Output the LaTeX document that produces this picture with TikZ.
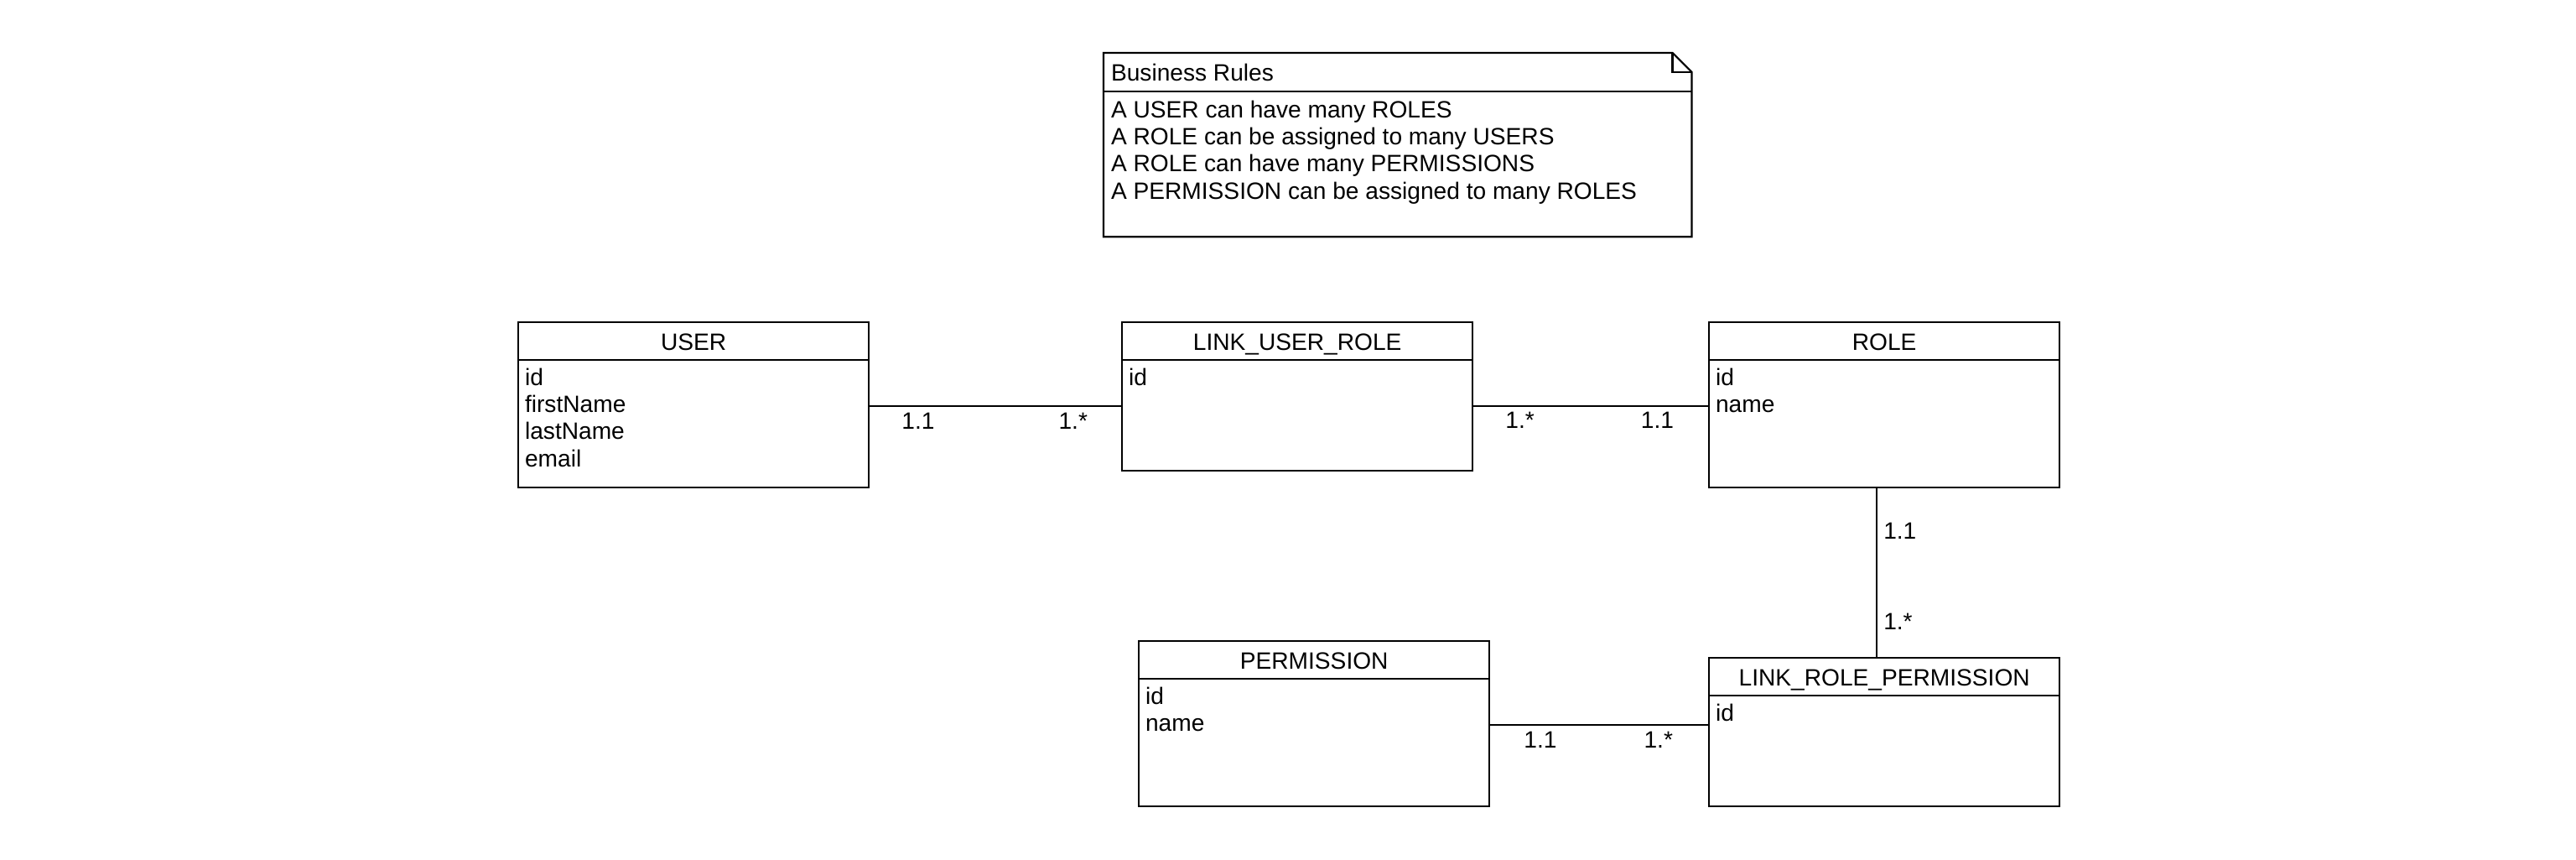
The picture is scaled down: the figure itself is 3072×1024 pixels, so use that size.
\documentclass[tikz,border=0pt]{standalone}
\usepackage{fontspec}
\setmainfont{Liberation Sans}
\usetikzlibrary{positioning}

\begin{document}
\begin{tikzpicture}[x=0.01cm, y=-0.01cm, line width=0.6pt,
    font=\fontsize{8pt}{9.6pt}\selectfont,
    entity/.style={draw, anchor=north west, inner sep=0pt, minimum width=4.18cm, minimum height=1.97cm},
    tabhead/.style={anchor=base, inner sep=0pt},
    field/.style={anchor=base west, inner sep=0pt},
    card/.style={anchor=base west, inner sep=0pt},
    cardr/.style={anchor=base east, inner sep=0pt}]
    \useasboundingbox (0,0) rectangle (3072,1024);

    \node[anchor=north west, inner sep=0pt, minimum width=6.99cm, minimum height=2.17cm] (note) at (1316,63) {};
    \draw (note.north west) -- ([shift={(-23,0)}]note.north east) -- ([shift={(0,23)}]note.north east) -- (note.south east) -- (note.south west) -- cycle;
    \draw ([shift={(-23,0)}]note.north east) |- ([shift={(0,23)}]note.north east);
    \draw ([shift={(0,46)}]note.north west) -- ([shift={(0,46)}]note.north east);
    \node[field] (note-t) at ([shift={(8,34)}]note.north west) {Business Rules};
    \foreach \r [count=\i] in {A USER can have many ROLES, A ROLE can be assigned to many USERS, A ROLE can have many PERMISSIONS, A PERMISSION can be assigned to many ROLES}
        \node[field] (note-\i) at ([shift={(8,{45+32.3*\i})}]note.north west) {\r};

    \node[entity] (user) at (617,383) {};
    \node[entity, minimum height=1.77cm] (lur) at (1337,383) {};
    \node[entity] (role) at (2037,383) {};
    \node[entity] (perm) at (1357,763) {};
    \node[entity, minimum height=1.77cm] (lrp) at (2037,783) {};

    \foreach \t in {user,lur,role,perm,lrp}
        \draw ([shift={(0,46)}]\t.north west) -- ([shift={(0,46)}]\t.north east);

    \node[tabhead] (user-t) at ([shift={(0,34)}]user.north) {USER};
    \node[tabhead] (lur-t) at ([shift={(0,34)}]lur.north) {LINK\_USER\_ROLE};
    \node[tabhead] (role-t) at ([shift={(0,34)}]role.north) {ROLE};
    \node[tabhead] (perm-t) at ([shift={(0,34)}]perm.north) {PERMISSION};
    \node[tabhead] (lrp-t) at ([shift={(0,34)}]lrp.north) {LINK\_ROLE\_PERMISSION};

    \foreach \f [count=\i] in {id,firstName,lastName,email}
        \node[field] (user-\i) at ([shift={(8,{44+32.3*\i})}]user.north west) {\f};
    \node[field] (lur-1) at ([shift={(8,76.3)}]lur.north west) {id};
    \foreach \f [count=\i] in {id,name}
        \node[field] (role-\i) at ([shift={(8,{44+32.3*\i})}]role.north west) {\f};
    \foreach \f [count=\i] in {id,name}
        \node[field] (perm-\i) at ([shift={(8,{44+32.3*\i})}]perm.north west) {\f};
    \node[field] (lrp-1) at ([shift={(8,76.3)}]lrp.north west) {id};

    \draw ([shift={(0,1.5)}]user.east) -- node[card, at start, shift={(37,27)}] (c1) {1.1} node[cardr, at end, shift={(-39,27)}] (c2) {1.*} ([shift={(0,1.5)}]user.east -| lur.west);
    \draw ([shift={(0,1)}]lur.east |- role.west) -- node[card, at start, shift={(37,27)}] (c3) {1.*} node[cardr, at end, shift={(-40,27)}] (c4) {1.1} ([shift={(0,1)}]role.west);
    \draw ([shift={(-9,0)}]role.south) -- node[card, at start, shift={(7,60)}] (c5) {1.1} node[card, at end, shift={(7,-33)}] (c6) {1.*} ([shift={(-9,0)}]role.south |- lrp.north);
    \draw ([shift={(0,1.5)}]perm.east) -- node[card, at start, shift={(39,27)}] (c7) {1.1} node[cardr, at end, shift={(-41,27)}] (c8) {1.*} ([shift={(0,1.5)}]perm.east -| lrp.west);
\end{tikzpicture}
\end{document}
